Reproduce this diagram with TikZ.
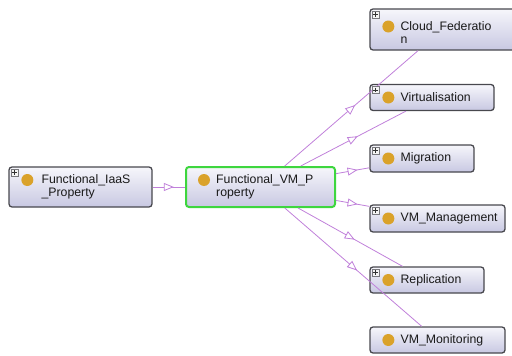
\documentclass[tikz,border=0pt]{standalone}
\usepackage{fontspec}
\setmainfont{Liberation Sans}
\usetikzlibrary{arrows.meta,decorations.markings,calc}
\definecolor{edgecol}{RGB}{192,128,218}
\definecolor{dotcol}{RGB}{218,162,42}
\definecolor{boxtop}{RGB}{246,246,251}
\definecolor{boxbot}{RGB}{200,200,226}
\definecolor{boxline}{RGB}{72,72,78}
\definecolor{selgreen}{RGB}{62,214,62}
\definecolor{plusgray}{RGB}{120,120,125}
\newcommand\plusmark[1]{%
  \draw[plusframe] ($(#1.north west)+(2.5,2.5)$) rectangle ++(7,7);
  \draw[plussign] ($(#1.north west)+(3.8,6)$) -- ++(4.4,0)
                  ($(#1.north west)+(6,3.8)$) -- ++(0,4.4);}
\newcommand\dotmark[2]{%
  \fill[dotcol] ($(#1.west)+(19,#2)$) circle (6pt);}
\begin{document}
\begin{tikzpicture}[x=1pt,y=-1pt,
  cls/.style={draw=boxline, line width=1.3pt, rounded corners=3pt,
    top color=boxtop, bottom color=boxbot, inner sep=0pt},
  selcls/.style={cls, draw=selgreen, line width=2pt},
  lbl/.style={anchor=west, align=left, inner sep=0pt,
    font=\fontsize{12.3}{13.5}\selectfont, text=black!90},
  plusframe/.style={draw=plusgray, line width=0.6pt, fill=white!92!gray},
  plussign/.style={draw=black!80, line width=0.7pt},
  isa/.style={draw=edgecol, line width=0.8pt, postaction={decorate},
    decoration={markings, mark=at position 0.5 with
      {\arrow[xshift=5pt]{Triangle[length=10pt,width=8pt,fill=white,line width=0.8pt]}}}}
]
\useasboundingbox (0,0) rectangle (512,356);

% class boxes
\node[cls, minimum width=143pt, minimum height=40pt] (iaas) at (80.5,187) {};
\node[selcls, minimum width=149pt, minimum height=40pt] (vm) at (260.5,187) {};
\node[cls, minimum width=145pt, minimum height=41pt] (cloud) at (442.5,29.5) {};
\node[cls, minimum width=124pt, minimum height=26pt] (virt) at (432,97.5) {};
\node[cls, minimum width=104pt, minimum height=27pt] (migr) at (422,158.5) {};
\node[cls, minimum width=135pt, minimum height=27pt] (mgmt) at (437.5,218.5) {};
\node[cls, minimum width=114pt, minimum height=26pt] (repl) at (427,280) {};
\node[cls, minimum width=135pt, minimum height=26pt] (mon) at (437.5,340) {};

% edges
\draw[isa] (iaas) -- (vm);
\draw[isa] (vm) -- (cloud);
\draw[isa] (vm) -- (virt);
\draw[isa] (vm) -- (migr);
\draw[isa] (vm) -- (mgmt);
\draw[isa] (vm) -- (repl);
\draw[isa] (vm) -- (mon);

% expand markers
\plusmark{iaas}
\plusmark{cloud}
\plusmark{virt}
\plusmark{migr}
\plusmark{mgmt}
\plusmark{repl}

% class dots
\dotmark{iaas}{-7}
\dotmark{vm}{-7}
\dotmark{cloud}{-3}
\dotmark{virt}{0}
\dotmark{migr}{0}
\dotmark{mgmt}{0}
\dotmark{repl}{0}
\dotmark{mon}{0}

% labels
\node[lbl] (iaas-t) at ($(iaas.west)+(33,0)$) {Functional\_IaaS\\\_Property};
\node[lbl] (vm-t) at ($(vm.west)+(31,0)$) {Functional\_VM\_P\\roperty};
\node[lbl] (cloud-t) at ($(cloud.west)+(31,3)$) {Cloud\_Federatio\\n};
\node[lbl] (virt-t) at ($(virt.west)+(31,0)$) {Virtualisation};
\node[lbl] (migr-t) at ($(migr.west)+(31,0)$) {Migration};
\node[lbl] (mgmt-t) at ($(mgmt.west)+(31,0)$) {VM\_Management};
\node[lbl] (repl-t) at ($(repl.west)+(31,0)$) {Replication};
\node[lbl] (mon-t) at ($(mon.west)+(31,0)$) {VM\_Monitoring};
\end{tikzpicture}
\end{document}
